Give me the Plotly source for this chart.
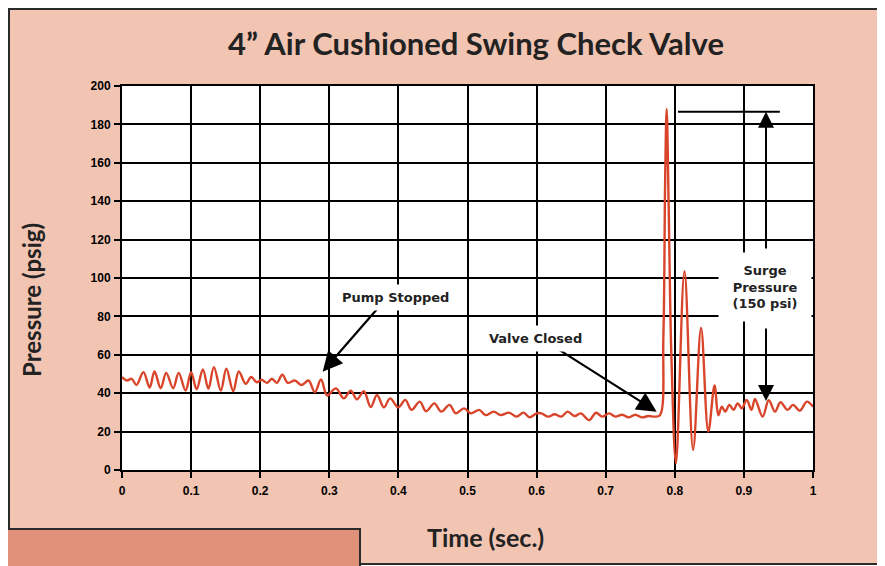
import plotly.graph_objects as go

# ---------------- data ----------------
time_s = [
    0.000, 0.007, 0.014, 0.021, 0.031, 0.040, 0.047, 0.056, 0.064, 0.074,
    0.082, 0.092, 0.100, 0.108, 0.117, 0.125, 0.133, 0.143, 0.151, 0.161,
    0.169, 0.179, 0.187, 0.195, 0.202, 0.210, 0.217, 0.224, 0.232, 0.240,
    0.250, 0.260, 0.270, 0.279, 0.288, 0.297, 0.3095, 0.321, 0.331, 0.340,
    0.350, 0.360, 0.369, 0.379, 0.388, 0.400, 0.410, 0.419, 0.431, 0.440,
    0.452, 0.462, 0.474, 0.483, 0.495, 0.505, 0.517, 0.526, 0.538, 0.548,
    0.560, 0.571, 0.581, 0.590, 0.600, 0.607, 0.617, 0.626, 0.636, 0.645,
    0.655, 0.664, 0.676, 0.686, 0.695, 0.705, 0.714, 0.724, 0.733, 0.743,
    0.752, 0.762, 0.771, 0.7785, 0.7835, 0.7860, 0.7882, 0.7910, 0.7950, 0.8017,
    0.8140, 0.8265, 0.8380, 0.8485, 0.8575, 0.8630, 0.868, 0.873, 0.879, 0.885,
    0.891, 0.897, 0.904, 0.911, 0.916, 0.927, 0.936, 0.945, 0.953, 0.963,
    0.971, 0.981, 0.991, 1.000,
]
pressure_psig = [
    48.4, 46.6, 47.5, 44.3, 51.0, 43.0, 51.3, 42.6, 50.6, 42.6,
    50.6, 41.4, 51.0, 42.0, 52.4, 42.3, 53.6, 41.4, 52.7, 41.0,
    51.3, 44.9, 48.4, 45.7, 47.0, 45.4, 47.5, 45.4, 49.6, 45.4,
    46.6, 44.3, 46.6, 40.5, 47.1, 38.8, 42.5, 37.3, 41.3, 36.8,
    41.0, 32.8, 39.1, 32.6, 37.3, 32.6, 36.5, 31.3, 35.6, 30.6,
    34.7, 30.4, 33.9, 29.5, 32.1, 29.5, 31.3, 28.6, 30.4, 28.6,
    29.9, 27.8, 29.9, 27.4, 29.5, 29.5, 27.8, 29.0, 27.8, 30.4,
    28.1, 29.5, 26.0, 29.8, 27.8, 29.5, 27.8, 28.8, 27.4, 28.8,
    27.4, 28.1, 27.8, 28.5, 70.0, 150.0, 188.0, 140.0, 60.0, 3.5,
    103.5, 10.5, 74.0, 20.0, 44.0, 28.5, 33.0, 30.4, 33.9, 31.3,
    34.7, 32.1, 36.5, 31.3, 37.0, 27.8, 36.3, 30.4, 35.3, 31.3,
    33.9, 30.9, 35.6, 33.0,
]

x_tick_values = [0, 0.1, 0.2, 0.3, 0.4, 0.5, 0.6, 0.7, 0.8, 0.9, 1]
x_tick_labels = ["0", "0.1", "0.2", "0.3", "0.4", "0.5", "0.6", "0.7", "0.8", "0.9", "1"]
y_tick_values = [0, 20, 40, 60, 80, 100, 120, 140, 160, 180, 200]

title_text = "4\u201d Air Cushioned Swing Check Valve"
x_title = "Time (sec.)"
y_title = "Pressure (psig)"
pump_label = "Pump Stopped"
valve_label = "Valve Closed"
surge_label = "Surge<br>Pressure<br>(150 psi)"

# annotation anchor values in data units (time, psig)
pump_tip = (0.2904, 51.2)
pump_tail = (0.3705, 84.4)
pump_text_at = (0.3951, 90.1)
valve_tip = (0.7738, 30.4)
valve_tail = (0.6237, 64.6)
valve_text_at = (0.5977, 68.75)
surge_x = 0.932
surge_top = 186.6
surge_line_x = (0.8046, 0.952)
surge_up_tail = 114.6
surge_down_tail = 74.5
surge_down_tip = 35.9
surge_text_at = (0.9306, 95.3)

# ---------------- layout geometry ----------------
# page has an 8px body margin, so the figure is shrunk by 8px and margins adjusted
OFF = 8
W, H = 885 - OFF, 566 - OFF
PL, PT, PR, PB = 122, 86, 813, 470          # plot area in page pixels
PW, PH = PR - PL, PB - PT


def px(xp):
    return (xp - PL) / PW


def py(yp):
    return (PB - yp) / PH


SALMON = "#F2C4B2"
BOX = "#E1907A"
DARK = "#2B2B2B"
RED = "#D9452B"
HEAD_FONT = "Lato, 'Open Sans', sans-serif"
LAB_FONT = "'DejaVu Sans', Verdana, sans-serif"
TICK_FONT = "Arial, 'Liberation Sans', sans-serif"

fig = go.Figure()
fig.add_trace(go.Scatter(
    x=time_s, y=pressure_psig, mode="lines",
    line=dict(color=RED, width=2.4, shape="spline", smoothing=1.0),
    hoverinfo="skip", showlegend=False,
))

axis_common = dict(
    showgrid=True, gridcolor="black", gridwidth=2,
    showline=True, linecolor="black", linewidth=2, mirror=True,
    ticks="outside", ticklen=6, tickwidth=2, tickcolor="black",
    zeroline=False,
    tickfont=dict(family=TICK_FONT, size=12, color="black", weight="bold"),
)

fig.update_layout(
    width=W, height=H, autosize=False,
    margin=dict(l=PL - OFF, r=885 - PR, t=PT - OFF, b=566 - PB, pad=0),
    paper_bgcolor="white", plot_bgcolor="white",
    xaxis=dict(range=[0, 1], tickvals=x_tick_values, ticktext=x_tick_labels,
               ticklabelstandoff=3, **axis_common),
    yaxis=dict(range=[0, 200], tickvals=y_tick_values, ticklabelstandoff=1, **axis_common),
    shapes=[
        # salmon frame
        dict(type="rect", xref="paper", yref="paper", layer="below",
             x0=px(9), x1=px(881), y0=py(564), y1=py(9),
             fillcolor=SALMON, line=dict(color=DARK, width=2)),
        # white plot area
        dict(type="rect", xref="paper", yref="paper", layer="below",
             x0=0, x1=1, y0=0, y1=1, fillcolor="white", line=dict(width=0)),
        # bottom-left tab
        dict(type="rect", xref="paper", yref="paper", layer="above",
             x0=px(-6), x1=px(360), y0=py(575), y1=py(529),
             fillcolor=BOX, line=dict(color=DARK, width=2)),
        # surge top reference line
        dict(type="line", xref="x", yref="y", layer="above",
             x0=surge_line_x[0], x1=surge_line_x[1], y0=surge_top, y1=surge_top,
             line=dict(color="black", width=2)),
    ],
)

ann = []
# title and axis titles
ann.append(dict(text=title_text, xref="paper", yref="paper", x=px(476), y=py(43),
                xanchor="center", yanchor="middle", showarrow=False,
                font=dict(family=HEAD_FONT, size=31, color="#222", weight="bold")))
ann.append(dict(text=x_title, xref="paper", yref="paper", x=px(485), y=py(537),
                xanchor="center", yanchor="middle", showarrow=False,
                font=dict(family=HEAD_FONT, size=25, color="#222", weight="bold")))
ann.append(dict(text=y_title, xref="paper", yref="paper", x=px(31), y=py(300),
                xanchor="center", yanchor="middle", textangle=-90, showarrow=False,
                font=dict(family=HEAD_FONT, size=24, color="#222", weight="bold")))

lab_font = dict(family=LAB_FONT, size=13, color="#222", weight="bold")
# arrows
for tip, tail in [(pump_tip, pump_tail), (valve_tip, valve_tail)]:
    ann.append(dict(text="", x=tip[0], y=tip[1], ax=tail[0], ay=tail[1],
                    xref="x", yref="y", axref="x", ayref="y",
                    showarrow=True, arrowhead=2, arrowsize=1.8, arrowwidth=2.2,
                    arrowcolor="black"))
ann.append(dict(text="", x=surge_x, y=surge_top, ax=surge_x, ay=surge_up_tail,
                xref="x", yref="y", axref="x", ayref="y",
                showarrow=True, arrowhead=2, arrowsize=1.6, arrowwidth=2,
                arrowcolor="black"))
ann.append(dict(text="", x=surge_x, y=surge_down_tip, ax=surge_x, ay=surge_down_tail,
                xref="x", yref="y", axref="x", ayref="y",
                showarrow=True, arrowhead=2, arrowsize=1.6, arrowwidth=2,
                arrowcolor="black"))
# labels
ann.append(dict(text=pump_label, x=pump_text_at[0], y=pump_text_at[1], xref="x", yref="y",
                showarrow=False, bgcolor="white", borderpad=5, font=lab_font))
ann.append(dict(text=valve_label, x=valve_text_at[0], y=valve_text_at[1], xref="x", yref="y",
                showarrow=False, bgcolor="white", borderpad=5, font=lab_font))
ann.append(dict(text=surge_label, x=surge_text_at[0], y=surge_text_at[1], xref="x", yref="y",
                showarrow=False, bgcolor="white", width=90, height=66, font=lab_font))

fig.update_layout(annotations=ann)
fig.write_html("out.html")
